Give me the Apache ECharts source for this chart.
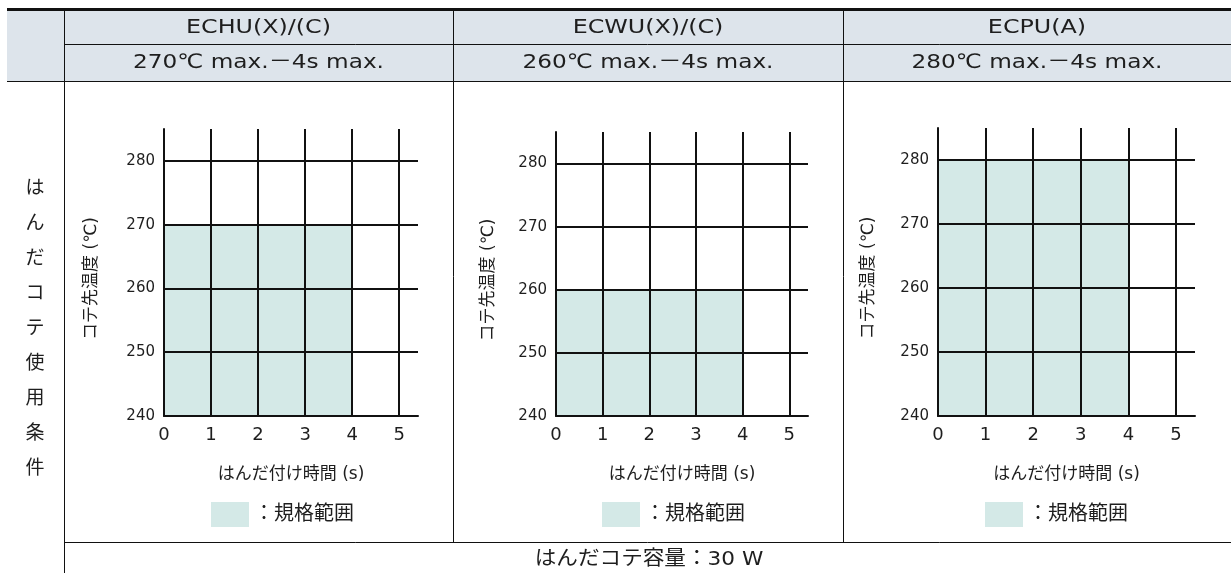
<!DOCTYPE html>
<html>
<head>
<meta charset="utf-8">
<script src="https://cdn.jsdelivr.net/npm/echarts@6/dist/echarts.min.js"></script>
<style>
html,body{margin:0;padding:0;background:#fff;}
#main{width:1231px;height:573px;}
</style>
</head>
<body>
<div id="main"></div>
<script>
// ---- data ----
const products = ['ECHU(X)/(C)', 'ECWU(X)/(C)', 'ECPU(A)'];
const conditions = ['270℃ max.－4s max.', '260℃ max.－4s max.', '280℃ max.－4s max.'];
const maxTemp = [270, 260, 280];
const maxTime = [4, 4, 4];
const minTemp = 240;
const minTime = 0;
const yAxisName = 'コテ先温度 (℃)';
const xAxisName = 'はんだ付け時間 (s)';
const legendName = '：規格範囲';
const sideLabel = 'はんだコテ使用条件';
const footLabel = 'はんだコテ容量：30 W';

// ---- layout ----
const FONT = "'DejaVu Sans', 'Noto Sans CJK JP', sans-serif";
const TXT = '#1e1e1e';
const SHADE = '#d4e9e7';
const HEAD = '#dde4eb';
const grids = [
  {left: 164, top: 129, width: 254, height: 287, nameGap: 64, legendLeft: 211},
  {left: 556, top: 132, width: 252, height: 284, nameGap: 59, legendLeft: 602},
  {left: 938, top: 128, width: 257, height: 288, nameGap: 61, legendLeft: 985}
];
const colCenters = [258.5, 648, 1037];

const chart = echarts.init(document.getElementById('main'), null, {renderer: 'canvas'});

function line(x1, y1, x2, y2, w) {
  return {type: 'line', silent: true, z: 10,
    shape: {x1, y1, x2, y2},
    style: {stroke: '#111', lineWidth: w || 1}};
}
function text(str, x, y, size, sx, lh) {
  const st = {text: str, fontSize: size, fontFamily: FONT, fill: TXT,
    align: 'center', verticalAlign: 'middle', textAlign: 'center', textVerticalAlign: 'middle'};
  if (lh) st.lineHeight = lh;
  return {type: 'text', silent: true, x, y, scaleX: sx || 1, z: 10, style: st};
}

const graphics = [
  {type: 'rect', silent: true, z: 1, shape: {x: 7, y: 11, width: 1224, height: 70}, style: {fill: HEAD}},
  line(7, 9.5, 1231, 9.5, 3),
  line(64, 44.5, 1231, 44.5, 1),
  line(7, 81.5, 1231, 81.5, 1),
  line(64.5, 11, 64.5, 573, 1),
  line(453.5, 11, 453.5, 542, 1),
  line(843.5, 11, 843.5, 542, 1),
  line(64, 542.5, 1231, 542.5, 1),
  text(sideLabel.split('').join('\n'), 35, 329, 19, 1, 35),
  text(footLabel, 649, 560, 20, 1.08)
];
products.forEach((p, i) => {
  graphics.push(text(p, colCenters[i], 28, 20, 1.19));
  graphics.push(text(conditions[i], colCenters[i], 62.5, 20, 1.16));
});

const option = {
  backgroundColor: '#fff',
  animation: false,
  textStyle: {fontFamily: FONT},
  graphic: graphics,
  grid: grids.map(g => ({left: g.left, top: g.top, width: g.width, height: g.height, containLabel: false})),
  legend: grids.map(g => ({
    data: [legendName], left: g.legendLeft, top: 502, padding: 0,
    icon: 'rect', itemWidth: 38, itemHeight: 25, itemGap: 0, selectedMode: false,
    textStyle: {fontSize: 20, color: TXT, fontFamily: FONT}
  })),
  xAxis: grids.map((g, i) => ({
    type: 'value', gridIndex: i, min: 0, max: 5.4, interval: 1, z: 5,
    name: xAxisName, nameLocation: 'middle', nameGap: 50,
    nameTextStyle: {fontSize: 17, color: TXT, fontFamily: FONT},
    axisLine: {show: true, onZero: false, lineStyle: {color: '#111', width: 2}},
    axisTick: {show: false},
    axisLabel: {fontSize: 18, color: TXT, margin: 10, showMaxLabel: false, fontFamily: FONT},
    splitLine: {show: true, showMinLine: false, showMaxLine: false, lineStyle: {color: '#111', width: 2}}
  })),
  yAxis: grids.map((g, i) => ({
    type: 'value', gridIndex: i, min: 240, max: 285, interval: 10, z: 5,
    name: yAxisName, nameLocation: 'middle', nameRotate: 90, nameGap: g.nameGap,
    nameTextStyle: {fontSize: 17, color: TXT, fontFamily: FONT, padding: [0, 12, 0, 0]},
    axisLine: {show: true, onZero: false, lineStyle: {color: '#111', width: 2}},
    axisTick: {show: false},
    axisLabel: {fontSize: 15, color: TXT, margin: 9, showMaxLabel: false, fontFamily: FONT},
    splitLine: {show: true, showMinLine: false, showMaxLine: false, lineStyle: {color: '#111', width: 2}}
  })),
  series: products.map((p, i) => ({
    type: 'custom', name: legendName, xAxisIndex: i, yAxisIndex: i, z: 1,
    itemStyle: {color: SHADE},
    encode: {x: [0, 1], y: [2, 3]},
    data: [[minTime, maxTime[i], minTemp, maxTemp[i]]],
    renderItem: function (params, api) {
      const p0 = api.coord([api.value(0), api.value(3)]);
      const p1 = api.coord([api.value(1), api.value(2)]);
      return {type: 'rect',
        shape: {x: p0[0], y: p0[1], width: p1[0] - p0[0], height: p1[1] - p0[1]},
        style: {fill: api.visual('color')}};
    }
  }))
};
chart.setOption(option);
</script>
</body>
</html>
